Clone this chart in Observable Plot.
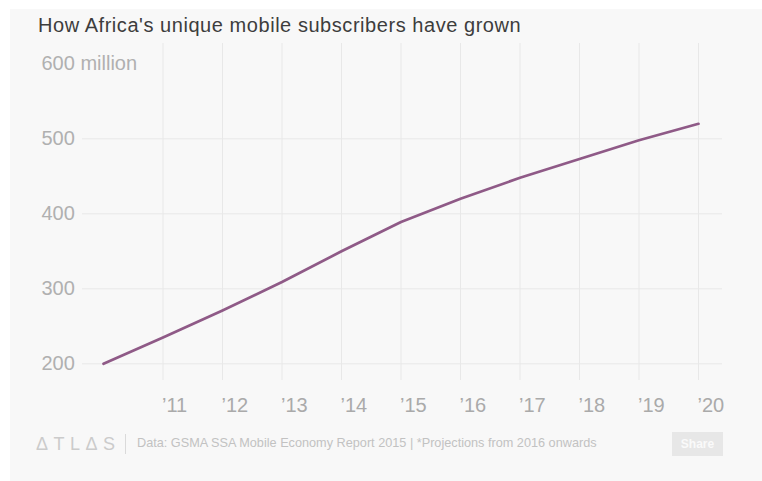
<!DOCTYPE html>
<html>
<head>
<meta charset="utf-8">
<script src="https://cdn.jsdelivr.net/npm/d3@7"></script>
<script src="https://cdn.jsdelivr.net/npm/@observablehq/plot@0.6"></script>
<style>
  html, body { margin: 0; padding: 0; background: #ffffff; }
  body { width: 762px; height: 481px; position: relative; overflow: hidden; font-family: "Liberation Sans", Arial, sans-serif; }
  #card { position: absolute; left: 10px; top: 9px; width: 752px; height: 472px; background: #f8f8f8; }
  #title { position: absolute; left: 38px; top: 15px; font-size: 20px; line-height: 20px; color: #3d3d3d; letter-spacing: 0.55px; white-space: nowrap; }
  #chart { position: absolute; left: 0; top: 40px; }
  #logo { position: absolute; left: 36px; top: 435px; font-size: 18px; line-height: 18px; color: #cbcbcb; letter-spacing: 5.5px; white-space: nowrap; font-weight: 300; }
  #divider { position: absolute; left: 125px; top: 434px; width: 1px; height: 20px; background: #dadada; }
  #source { position: absolute; left: 137px; top: 437px; font-size: 12.7px; line-height: 13px; color: #c2c2c2; white-space: nowrap; }
  #share { position: absolute; left: 672px; top: 432px; width: 51px; height: 24px; background: #e7e7e7; color: #fafafa; font-size: 12px; line-height: 24px; text-align: center; font-weight: bold; }
</style>
</head>
<body>
<div id="card"></div>
<div id="title">How Africa's unique mobile subscribers have grown</div>
<div id="chart"></div>
<div id="logo">ΔTLΔS</div>
<div id="divider"></div>
<div id="source">Data: GSMA SSA Mobile Economy Report 2015 | *Projections from 2016 onwards</div>
<div id="share">Share</div>
<script>
const years = [2010, 2011, 2012, 2013, 2014, 2015, 2016, 2017, 2018, 2019, 2020];
const subscribers = [200, 235, 271, 309, 350, 389, 420, 448, 473, 498, 520];
const yTicks = [200, 300, 400, 500, 600];
const yTickLabels = ["200", "300", "400", "500", "600 million"];
const xTicks = [2011, 2012, 2013, 2014, 2015, 2016, 2017, 2018, 2019, 2020];
const xTickLabels = ["’11", "’12", "’13", "’14", "’15", "’16", "’17", "’18", "’19", "’20"];
const gridY = [200, 300, 400, 500];

const data = years.map((year, i) => ({year, value: subscribers[i]}));

const chart = Plot.plot({
  width: 762,
  height: 380,
  marginLeft: 103,
  marginRight: 64,
  marginTop: 23.3,
  marginBottom: 56.7,
  style: {background: "transparent", fontSize: "20px", fontFamily: "'Liberation Sans', Arial, sans-serif"},
  x: {type: "linear", domain: [2010, 2020]},
  y: {domain: [200, 600]},
  marks: [
    Plot.ruleY(gridY, {stroke: "#e8e8e8", strokeWidth: 1, insetLeft: -21, insetRight: -24}),
    Plot.ruleX(xTicks, {stroke: "#e8e8e8", strokeWidth: 1, insetTop: -20.3, insetBottom: -16.7}),
    Plot.axisY(yTicks, {
      tickSize: 0, tickPadding: 0, textAnchor: "start", dx: -62,
      tickFormat: d => yTickLabels[yTicks.indexOf(d)],
      fill: "#b0b0b0", label: null
    }),
    Plot.axisX(xTicks, {
      tickSize: 0, tickPadding: 33.5, textAnchor: "start", dx: -1,
      tickFormat: d => xTickLabels[xTicks.indexOf(d)],
      fill: "#aaaaaa", label: null
    }),
    Plot.line(data, {x: "year", y: "value", stroke: "#8f5a87", strokeWidth: 2.7, strokeLinecap: "round", strokeLinejoin: "round"})
  ]
});
document.getElementById("chart").appendChild(chart);
</script>
</body>
</html>
